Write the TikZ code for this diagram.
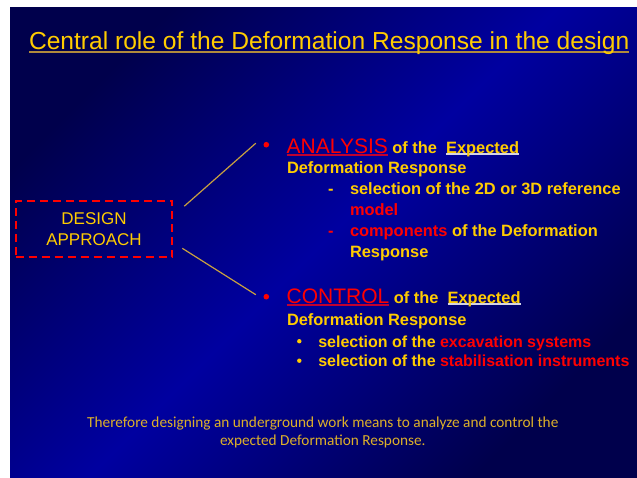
\documentclass[tikz,border=0pt]{standalone}
\usepackage{fontspec}
\setmainfont{Liberation Sans}
\newfontfamily\notefont{Carlito}
\definecolor{slidedark}{HTML}{00004C}
\definecolor{slidebright}{HTML}{0000A0}
\definecolor{gold}{HTML}{FFCC00}
\definecolor{alert}{HTML}{FF0000}
\definecolor{linkgold}{HTML}{C8A040}
\definecolor{notegold}{HTML}{DDB02A}
\definecolor{titlerule}{HTML}{B08A3C}
\definecolor{alertrule}{HTML}{C00030}
\definecolor{lightrule}{HTML}{D4D4E4}

% coloured underline: colour, depth below baseline, thickness, text
\newcommand\ulcol[4]{\setbox0\hbox{#4}\rlap{\textcolor{#1}{\rule[-#2]{\wd0}{#3}}}\box0}
\newcommand\bigsz{\fontsize{21}{25}\selectfont}
\newcommand\midsz{\bfseries\fontsize{16.4}{20}\selectfont}
\newcommand\subsz{\bfseries\fontsize{16}{20}\selectfont}

\tikzset{
  txt/.style={anchor=base west, inner sep=0pt, outer sep=0pt, text=gold, font=\midsz},
  subtxt/.style={txt, font=\subsz},
  dot/.style={circle, fill=alert, draw=none, minimum size=5.6pt, inner sep=0pt},
  subdot/.style={circle, fill=gold, draw=none, minimum size=4.4pt, inner sep=0pt},
  link/.style={draw=linkgold, line width=1.2pt},
  approach/.style={draw=alert, line width=2pt, dash pattern=on 8pt off 5pt,
    minimum width=156.6pt, minimum height=56.6pt, inner sep=0pt,
    align=center, text=gold, font=\fontsize{17}{20.7}\selectfont},
  note/.style={anchor=base, inner sep=0pt, text=notegold, font=\notefont\fontsize{15.3}{17.7}\selectfont}
}

\begin{document}
\begin{tikzpicture}[x=1pt, y=-1pt]
  \useasboundingbox (0,0) rectangle (637,477);
  \fill[white] (0,0) rectangle (637,477);
  % slide background
  \shade[top color=slidedark, bottom color=slidedark, middle color=slidebright, shading angle=45]
    (10,7) rectangle (637,477);

  % title
  \node[txt, font=\fontsize{24.6}{28}\selectfont] (title) at (29,49.6)
    {\ulcol{titlerule}{3pt}{1.5pt}{Central role of the Deformation Response in the design}};

  % design approach box
  \node[approach] (design) at (94,229) {DESIGN\\APPROACH};

  % analysis branch
  \node[dot] (bulA) at (266.3,144.7) {};
  \node[txt] (anA) at (286.7,153.3)
    {{\mdseries\bigsz\textcolor{alert}{\ulcol{alertrule}{2.2pt}{1.4pt}{ANALYSIS}}} of the\ \ \ulcol{lightrule}{1.2pt}{1.4pt}{Expected}};
  \node[txt] (anB) at (287,173.5) {Deformation Response};
  \node[txt] (anDa) at (328,194) {-};
  \node[txt] (anC) at (350,194) {selection of the 2D or 3D reference};
  \node[txt, text=alert] (anD) at (350,215) {model};
  \node[txt, text=alert] (anDb) at (328,236.5) {-};
  \node[txt] (anE) at (350,236.5) {\textcolor{alert}{components} of the Deformation};
  \node[txt] (anF) at (350,257.3) {Response};

  % control branch
  \node[dot] (bulB) at (266.3,296.7) {};
  \node[txt] (coA) at (286.7,303.3)
    {{\mdseries\bigsz\textcolor{alert}{\ulcol{alertrule}{2.2pt}{1.4pt}{CONTROL}}} of the\ \ \ulcol{lightrule}{1.2pt}{1.4pt}{Expected}};
  \node[txt] (coB) at (287,325) {Deformation Response};
  \node[subdot] (sbA) at (299.3,341.2) {};
  \node[subtxt] (coC) at (318.3,347.3) {selection of the \textcolor{alert}{excavation systems}};
  \node[subdot] (sbB) at (299.3,360.7) {};
  \node[subtxt] (coD) at (318.3,366.7) {selection of the \textcolor{alert}{stabilisation instruments}};

  % connectors
  \draw[link] ([shift={(11,6.5)}]design.north east) -- ([shift={(-7.5,-1.5)}]bulA.west);
  \draw[link] ([shift={(9,-10)}]design.south east) -- ([shift={(-7.5,-2)}]bulB.west);

  % closing remark
  \node[note] (noteA) at (322.8,427.3) {Therefore designing an underground work means to analyze and control the};
  \node[note] (noteB) at (322.8,445) {expected Deformation Response.};
\end{tikzpicture}
\end{document}
